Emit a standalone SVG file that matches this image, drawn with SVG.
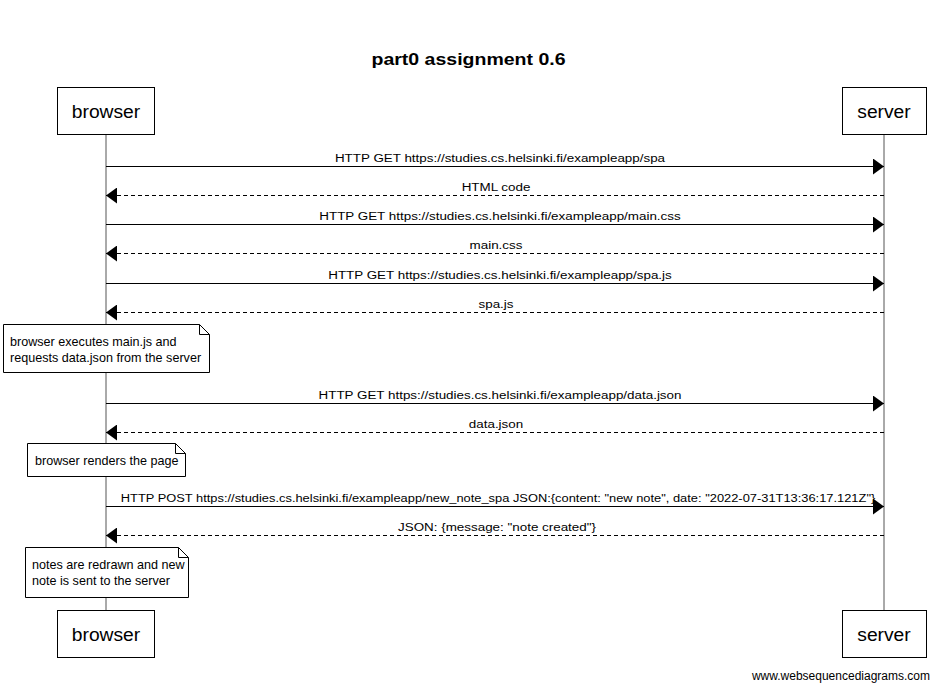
<svg xmlns="http://www.w3.org/2000/svg" width="939" height="698" viewBox="0 0 939 698">
<style>
text{font-family:"Liberation Sans",Arial,sans-serif;fill:#000}
.title{font-size:16px;font-weight:bold;text-anchor:middle}
.actor rect{fill:#fff;stroke:#000;stroke-width:1}
.actor text{font-size:18px;text-anchor:middle}
.life{stroke:#555;stroke-width:1}
.msg{stroke:#000;stroke-width:1;fill:none}
.dash{stroke-dasharray:4,3}
.lbl{font-size:11px;text-anchor:middle}
.note path{fill:#fff;stroke:#000;stroke-width:1}
.note text{font-size:12px}
.wm{font-size:12px;text-anchor:end}
</style>
<defs>
<marker id="ah" markerWidth="11" markerHeight="16" refX="11" refY="8" orient="auto" markerUnits="userSpaceOnUse">
<path d="M0,0 L11,8 L0,16 Z" fill="#000"/>
</marker>
</defs>
<rect width="939" height="698" fill="#fff"/>
<text class="title" transform="translate(468.5,65) scale(1.22,1)">part0 assignment 0.6</text>
<g id="lifelines">
<line class="life" x1="106" y1="135" x2="106" y2="611"/>
<line class="life" x1="884" y1="135" x2="884" y2="611"/>
</g>
<g id="browser" class="actor">
<rect x="57.5" y="87.5" width="97" height="47"/>
<text transform="translate(106,118) scale(1.07,1)">browser</text>
</g>
<g id="server" class="actor">
<rect x="842.5" y="87.5" width="84" height="47"/>
<text transform="translate(884,118) scale(1.07,1)">server</text>
</g>
<g id="browser-bottom" class="actor">
<rect x="57.5" y="610.5" width="97" height="47"/>
<text transform="translate(106,641) scale(1.07,1)">browser</text>
</g>
<g id="server-bottom" class="actor">
<rect x="842.5" y="610.5" width="84" height="47"/>
<text transform="translate(884,641) scale(1.07,1)">server</text>
</g>
<g id="connectors">
<line class="msg" x1="106" y1="166.5" x2="884" y2="166.5" marker-end="url(#ah)"/>
<text class="lbl" transform="translate(500,162) scale(1.22,1)">HTTP GET https://studies.cs.helsinki.fi/exampleapp/spa</text>
<line class="msg dash" x1="884" y1="195.5" x2="106" y2="195.5" marker-end="url(#ah)"/>
<text class="lbl" transform="translate(496,191) scale(1.22,1)">HTML code</text>
<line class="msg" x1="106" y1="224.5" x2="884" y2="224.5" marker-end="url(#ah)"/>
<text class="lbl" transform="translate(500,220) scale(1.22,1)">HTTP GET https://studies.cs.helsinki.fi/exampleapp/main.css</text>
<line class="msg dash" x1="884" y1="253.5" x2="106" y2="253.5" marker-end="url(#ah)"/>
<text class="lbl" transform="translate(496,249) scale(1.22,1)">main.css</text>
<line class="msg" x1="106" y1="283.5" x2="884" y2="283.5" marker-end="url(#ah)"/>
<text class="lbl" transform="translate(500,279) scale(1.22,1)">HTTP GET https://studies.cs.helsinki.fi/exampleapp/spa.js</text>
<line class="msg dash" x1="884" y1="312.5" x2="106" y2="312.5" marker-end="url(#ah)"/>
<text class="lbl" transform="translate(496,308) scale(1.22,1)">spa.js</text>
<line class="msg" x1="106" y1="403.5" x2="884" y2="403.5" marker-end="url(#ah)"/>
<text class="lbl" transform="translate(500,399) scale(1.22,1)">HTTP GET https://studies.cs.helsinki.fi/exampleapp/data.json</text>
<line class="msg dash" x1="884" y1="432.5" x2="106" y2="432.5" marker-end="url(#ah)"/>
<text class="lbl" transform="translate(496,428) scale(1.22,1)">data.json</text>
<line class="msg" x1="106" y1="506.5" x2="884" y2="506.5" marker-end="url(#ah)"/>
<text class="lbl" transform="translate(498,502) scale(1.17,1)">HTTP POST https://studies.cs.helsinki.fi/exampleapp/new_note_spa JSON:{content: "new note", date: "2022-07-31T13:36:17.121Z"}</text>
<line class="msg dash" x1="884" y1="535.5" x2="106" y2="535.5" marker-end="url(#ah)"/>
<text class="lbl" transform="translate(497,531) scale(1.22,1)">JSON: {message: "note created"}</text>
</g>
<g id="note1" class="note">
<path d="M3.5,324.5 H199.5 L209.5,334.5 V372.5 H3.5 Z M199.5,324.5 V334.5 H209.5"/>
<text transform="translate(10,346) scale(1.05,1)">browser executes main.js and</text>
<text transform="translate(10,362) scale(1.05,1)">requests data.json from the server</text>
</g>
<g id="note2" class="note">
<path d="M27.5,443.5 H175.5 L185.5,453.5 V476.5 H27.5 Z M175.5,443.5 V453.5 H185.5"/>
<text transform="translate(35,465) scale(1.05,1)">browser renders the page</text>
</g>
<g id="note3" class="note">
<path d="M25.5,547.5 H178.5 L188.5,557.5 V597.5 H25.5 Z M178.5,547.5 V557.5 H188.5"/>
<text transform="translate(32,569) scale(1.05,1)">notes are redrawn and new</text>
<text transform="translate(32,585) scale(1.05,1)">note is sent to the server</text>
</g>
<text class="wm" x="930" y="680">www.websequencediagrams.com</text>
</svg>
